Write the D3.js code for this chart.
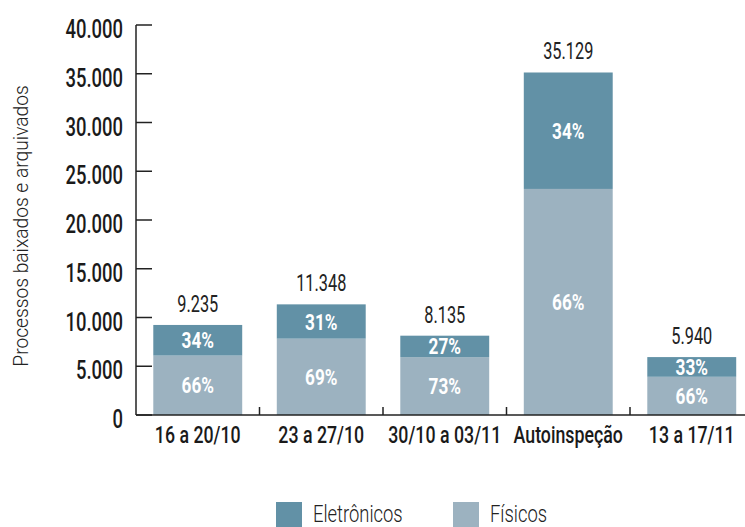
<!DOCTYPE html>
<html>
<head>
<meta charset="utf-8">
<script src="https://cdn.jsdelivr.net/npm/d3@7"></script>
<style>
  body { margin: 0; background: #fff; }
  text { font-family: Roboto, "DejaVu Sans", sans-serif; }
</style>
</head>
<body>
<div id="chart"></div>
<script>
const width = 745;
const height = 527;

const categories = ['16 a 20/10', '23 a 27/10', '30/10 a 03/11', 'Autoinspeção', '13 a 17/11'];
const totals = [9235, 11348, 8135, 35129, 5940];
const pctFisicos = [66, 69, 73, 66, 66];
const pctEletronicos = [34, 31, 27, 34, 33];
const yTicks = [0, 5000, 10000, 15000, 20000, 25000, 30000, 35000, 40000];
const seriesNames = ['Eletrônicos', 'Físicos'];
const colors = { 'Eletrônicos': '#6291a6', 'Físicos': '#9cb2c0' };

const fmt = d3.formatLocale({ decimal: ',', thousands: '.', grouping: [3], currency: ['', ''] }).format(',d');

const rows = categories.map((c, i) => {
  const fis = Math.round(totals[i] * pctFisicos[i] / 100);
  return { cat: c, total: totals[i], fis, ele: totals[i] - fis, pf: pctFisicos[i], pe: pctEletronicos[i] };
});

const svg = d3.select('#chart').append('svg')
  .attr('width', width)
  .attr('height', height);

// condensed text: scale the glyphs horizontally
function label(sel, o) {
  return sel.append('text')
    .attr('transform', d => `translate(${o.x(d)},${o.y(d)}) scale(${o.sx},1)`)
    .attr('text-anchor', o.anchor || 'middle')
    .attr('font-size', o.size)
    .attr('font-weight', o.weight || 400)
    .attr('fill', o.fill || '#1a1a1a')
    .text(o.text);
}

const x = d3.scaleBand()
  .domain(categories)
  .range([136, 753.5])
  .paddingInner(0.28)
  .paddingOuter(0.14);

const y = d3.scaleLinear()
  .domain([0, 40000])
  .range([415, 25]);

// y axis
const yAxis = svg.append('g').attr('transform', 'translate(136,0)');
yAxis.append('line')
  .attr('y1', y(0)).attr('y2', y(40000))
  .attr('stroke', '#222').attr('stroke-width', 1.5);
yAxis.selectAll('line.tick')
  .data(yTicks)
  .join('line')
  .attr('class', 'tick')
  .attr('x1', 0).attr('x2', 16)
  .attr('y1', d => y(d)).attr('y2', d => y(d))
  .attr('stroke', '#222').attr('stroke-width', 1.5);
yAxis.selectAll('g.lab')
  .data(yTicks)
  .join('g')
  .attr('class', 'lab')
  .call(g => label(g, { x: () => -13, y: d => y(d) + 13, sx: 0.71, size: 26, weight: 500, anchor: 'end', text: d => fmt(d) }));

svg.append('text')
  .attr('transform', `translate(28,226) rotate(-90) scale(0.915,1)`)
  .attr('text-anchor', 'middle')
  .attr('font-size', 21)
  .attr('font-weight', 300)
  .attr('fill', '#222')
  .text('Processos baixados e arquivados');

// bars
const bars = svg.append('g');
bars.selectAll('rect.fis')
  .data(rows)
  .join('rect')
  .attr('class', 'fis')
  .attr('x', d => x(d.cat))
  .attr('width', x.bandwidth())
  .attr('y', d => y(d.fis))
  .attr('height', d => y(0) - y(d.fis))
  .attr('fill', colors['Físicos']);
bars.selectAll('rect.ele')
  .data(rows)
  .join('rect')
  .attr('class', 'ele')
  .attr('x', d => x(d.cat))
  .attr('width', x.bandwidth())
  .attr('y', d => y(d.total))
  .attr('height', d => y(d.fis) - y(d.total))
  .attr('fill', colors['Eletrônicos']);

// x axis
const xAxis = svg.append('g');
xAxis.append('line')
  .attr('x1', 136).attr('x2', width)
  .attr('y1', y(0)).attr('y2', y(0))
  .attr('stroke', '#222').attr('stroke-width', 1.5);
const step = x.step();
xAxis.selectAll('line.tick')
  .data(categories.slice(1))
  .join('line')
  .attr('class', 'tick')
  .attr('x1', d => x(d) - x.paddingInner() * step / 2)
  .attr('x2', d => x(d) - x.paddingInner() * step / 2)
  .attr('y1', y(0)).attr('y2', y(0) - 8)
  .attr('stroke', '#222').attr('stroke-width', 1.5);
xAxis.selectAll('g.lab')
  .data(categories)
  .join('g')
  .attr('class', 'lab')
  .call(g => label(g, { x: d => x(d) + x.bandwidth() / 2, y: () => y(0) + 28, sx: 0.74, size: 24, weight: 500, text: d => d }));

// labels
const labels = svg.append('g');
labels.selectAll('g.total')
  .data(rows)
  .join('g')
  .attr('class', 'total')
  .call(g => label(g, { x: d => x(d.cat) + x.bandwidth() / 2, y: d => y(d.total) - 13, sx: 0.68, size: 24, weight: 400, fill: '#222', text: d => fmt(d.total) }));
labels.selectAll('g.pe')
  .data(rows)
  .join('g')
  .attr('class', 'pe')
  .call(g => label(g, { x: d => x(d.cat) + x.bandwidth() / 2, y: d => (y(d.total) + y(d.fis)) / 2 + 8, sx: 0.78, size: 22, weight: 700, fill: '#fff', text: d => d.pe + '%' }));
labels.selectAll('g.pf')
  .data(rows)
  .join('g')
  .attr('class', 'pf')
  .call(g => label(g, { x: d => x(d.cat) + x.bandwidth() / 2, y: d => (y(d.fis) + y(0)) / 2 + 8, sx: 0.78, size: 22, weight: 700, fill: '#fff', text: d => d.pf + '%' }));

// legend
const legendX = [276, 453];
const legend = svg.append('g');
const item = legend.selectAll('g')
  .data(seriesNames)
  .join('g')
  .attr('transform', (d, i) => `translate(${legendX[i]},502)`);
item.append('rect')
  .attr('width', 26).attr('height', 26)
  .attr('fill', d => colors[d]);
item.call(g => label(g, { x: () => 37, y: () => 20, sx: 0.8, size: 23, weight: 300, anchor: 'start', fill: '#222', text: d => d }));
</script>
</body>
</html>
